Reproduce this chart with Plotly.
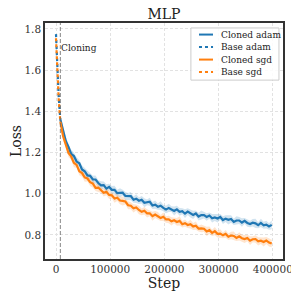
import plotly.graph_objects as go

# ---- data ----
cloned_steps = list(range(8000, 400001, 5000))
cloned_adam = [1.360, 1.306, 1.256, 1.227, 1.193, 1.183, 1.156, 1.148, 1.118, 1.109,
               1.089, 1.087, 1.069, 1.069, 1.052, 1.041, 1.042, 1.025, 1.033, 1.019,
               1.019, 1.003, 1.005, 1.005, 0.989, 0.987, 0.988, 0.971, 0.976, 0.966,
               0.971, 0.956, 0.958, 0.961, 0.943, 0.947, 0.937, 0.942, 0.931, 0.923,
               0.931, 0.925, 0.916, 0.924, 0.912, 0.915, 0.903, 0.913, 0.903, 0.897,
               0.904, 0.889, 0.896, 0.896, 0.887, 0.894, 0.881, 0.885, 0.880, 0.887,
               0.872, 0.879, 0.873, 0.877, 0.863, 0.870, 0.870, 0.860, 0.868, 0.858,
               0.853, 0.859, 0.856, 0.847, 0.858, 0.847, 0.850, 0.841, 0.849]
cloned_sgd = [1.350, 1.280, 1.239, 1.198, 1.181, 1.150, 1.140, 1.109, 1.100, 1.079,
              1.074, 1.056, 1.049, 1.029, 1.030, 1.019, 1.005, 1.009, 0.994, 0.992,
              0.977, 0.981, 0.967, 0.965, 0.962, 0.944, 0.942, 0.929, 0.933, 0.921,
              0.912, 0.917, 0.905, 0.905, 0.891, 0.899, 0.892, 0.882, 0.888, 0.875,
              0.875, 0.866, 0.871, 0.863, 0.868, 0.852, 0.857, 0.848, 0.852, 0.841,
              0.845, 0.831, 0.832, 0.830, 0.817, 0.823, 0.810, 0.818, 0.805, 0.806,
              0.798, 0.805, 0.791, 0.797, 0.795, 0.785, 0.793, 0.784, 0.780, 0.785,
              0.772, 0.779, 0.780, 0.769, 0.772, 0.766, 0.773, 0.763, 0.758]
adam_spread = [0.020, 0.018, 0.022, 0.015, 0.020, 0.017, 0.021, 0.014, 0.019, 0.016,
               0.022, 0.015, 0.018, 0.020, 0.014, 0.019, 0.017, 0.021, 0.015, 0.018,
               0.020, 0.016, 0.022, 0.014, 0.019, 0.017, 0.020, 0.015, 0.021, 0.016,
               0.018, 0.022, 0.014, 0.019, 0.017, 0.020, 0.015, 0.021, 0.016, 0.018,
               0.020, 0.014, 0.022, 0.017, 0.019, 0.015, 0.021, 0.016, 0.018, 0.020,
               0.014, 0.019, 0.022, 0.016, 0.018, 0.015, 0.021, 0.017, 0.020, 0.014,
               0.019, 0.016, 0.022, 0.018, 0.015, 0.020, 0.017, 0.021, 0.014, 0.019,
               0.016, 0.018, 0.022, 0.015, 0.020, 0.017, 0.019, 0.016, 0.021]
sgd_spread = [0.018, 0.021, 0.015, 0.020, 0.016, 0.022, 0.014, 0.019, 0.017, 0.021,
              0.015, 0.018, 0.020, 0.016, 0.022, 0.014, 0.019, 0.017, 0.020, 0.015,
              0.021, 0.016, 0.018, 0.022, 0.014, 0.019, 0.017, 0.020, 0.015, 0.021,
              0.016, 0.018, 0.020, 0.014, 0.022, 0.017, 0.019, 0.015, 0.021, 0.016,
              0.018, 0.020, 0.014, 0.019, 0.022, 0.016, 0.018, 0.015, 0.021, 0.017,
              0.020, 0.014, 0.019, 0.016, 0.022, 0.018, 0.015, 0.020, 0.017, 0.021,
              0.014, 0.019, 0.016, 0.018, 0.022, 0.015, 0.020, 0.017, 0.019, 0.016,
              0.021, 0.015, 0.018, 0.020, 0.016, 0.022, 0.017, 0.019, 0.018]
base_steps = [0, 1000, 2000, 3000, 4000, 5000, 6000, 7000, 8000]
base_adam = [1.775, 1.700, 1.630, 1.570, 1.520, 1.470, 1.430, 1.390, 1.360]
base_sgd = [1.755, 1.680, 1.610, 1.550, 1.500, 1.460, 1.420, 1.380, 1.350]
cloning_step = 8000
x_ticks = [0, 100000, 200000, 300000, 400000]
y_ticks = [0.8, 1.0, 1.2, 1.4, 1.6, 1.8]
legend_names = ["Cloned adam", "Base adam", "Cloned sgd", "Base sgd"]

assert len(cloned_steps) == len(cloned_adam) == len(cloned_sgd) == len(adam_spread) == len(sgd_spread)

BLUE = "#1f77b4"
ORANGE = "#ff7f0e"
FONT = "DejaVu Serif"

fig = go.Figure()


def band(vals, spread, color):
    up = [v + s for v, s in zip(vals, spread)]
    lo = [v - s for v, s in zip(vals, spread)]
    fig.add_trace(go.Scatter(
        x=cloned_steps + cloned_steps[::-1], y=up + lo[::-1],
        fill="toself", fillcolor=color, line=dict(width=0),
        mode="lines", showlegend=False, hoverinfo="skip"))


band(cloned_adam, adam_spread, "rgba(31,119,180,0.2)")
band(cloned_sgd, sgd_spread, "rgba(255,127,14,0.2)")

styles = [(BLUE, "solid"), (BLUE, "dot"), (ORANGE, "solid"), (ORANGE, "dot")]
series = [(cloned_steps, cloned_adam), (base_steps, base_adam),
          (cloned_steps, cloned_sgd), (base_steps, base_sgd)]
for name, (xs, ys), (col, dash) in zip(legend_names, series, styles):
    fig.add_trace(go.Scatter(x=xs, y=ys, mode="lines", name=name, showlegend=False,
                             line=dict(color=col, width=2.2, dash=dash)))

fig.add_shape(type="line", xref="x", yref="paper", x0=cloning_step, x1=cloning_step,
              y0=0, y1=1, line=dict(color="#666666", width=0.8, dash="4px,2px"))
fig.add_annotation(x=cloning_step, y=1.71, xref="x", yref="y", text="Cloning",
                   showarrow=False, xanchor="left", xshift=-1,
                   font=dict(family=FONT, size=9, color="#222222"))

# legend box (drawn like matplotlib's legend)
fig.add_shape(type="rect", xref="paper", yref="paper", x0=0.613, x1=0.983, y0=0.758, y1=0.979,
              line=dict(color="#cccccc", width=1), fillcolor="rgba(255,255,255,0.85)",
              layer="above")
row_y = [0.951, 0.898, 0.845, 0.792]
for name, (col, dash), yy in zip(legend_names, styles, row_y):
    fig.add_shape(type="line", xref="paper", yref="paper", x0=0.647, x1=0.706, y0=yy, y1=yy,
                  line=dict(color=col, width=2, dash=dash), layer="above")
    fig.add_annotation(x=0.731, y=yy, xref="paper", yref="paper", text=name,
                       showarrow=False, xanchor="left", yanchor="middle",
                       font=dict(family=FONT, size=9, color="#222222"))

axis_common = dict(
    showgrid=True, gridcolor="#e2e2e2", griddash="3px,2px", gridwidth=1,
    zeroline=False, showline=True, linecolor="#333333", linewidth=1.5, mirror=True,
    ticks="", automargin=False,
    tickfont=dict(family=FONT, size=10.5, color="#333333"),
)

fig.update_layout(
    width=291, height=291,
    margin=dict(l=37, r=16, t=15, b=40),
    paper_bgcolor="white", plot_bgcolor="white",
    title=dict(text="MLP", xref="paper", x=0.5, xanchor="center", y=0.995, yanchor="top",
               font=dict(family=FONT, size=14, color="#222222")),
    font=dict(family=FONT, color="#222222"),
    xaxis=dict(range=[-20300, 418800], tickvals=x_ticks,
               ticktext=[str(t) for t in x_ticks],
               title=dict(text="Step", font=dict(family=FONT, size=14, color="#222222"),
                          standoff=0),
               **axis_common),
    yaxis=dict(range=[0.683, 1.829], tickvals=y_ticks,
               ticktext=["%.1f" % t for t in y_ticks],
               title=dict(text="Loss", font=dict(family=FONT, size=14, color="#222222"),
                          standoff=0),
               **axis_common),
    showlegend=False,
)

fig.write_html("out.html", config={"displayModeBar": False})
